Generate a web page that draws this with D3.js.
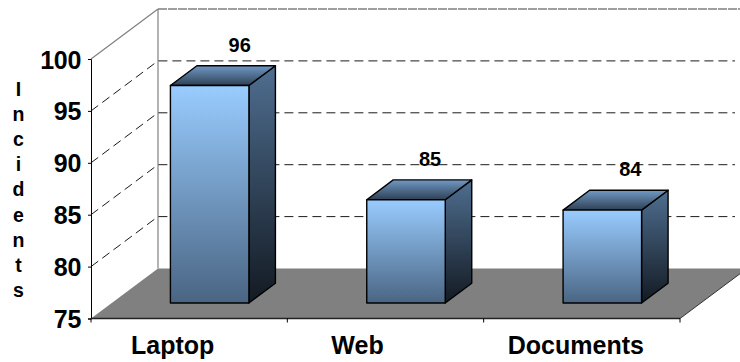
<!DOCTYPE html>
<html><head><meta charset="utf-8">
<script src="https://cdn.jsdelivr.net/npm/d3@7"></script>
<style>html,body{margin:0;padding:0;background:#fff}svg{display:block}text{font-family:"Liberation Sans",Arial,sans-serif;font-weight:bold;fill:#000}</style>
</head><body><svg id="c" width="740" height="362"></svg>
<script>
const categories = ["Laptop", "Web", "Documents"];
const values = [96, 85, 84];
const yTicks = [75, 80, 85, 90, 95, 100];
const axisTitle = "Incidents";

const svg = d3.select("#c");
const W = 740, H = 362;
const x = d3.scaleBand().domain(categories).range([91, 680]);
const y = d3.scaleLinear().domain([75, 100]).range([318.5, 59]);
const dx = 67, dy = -50;          // full chart depth
const bx = 20.5, by = -15;        // bar's front face within depth
const bdx = 26.5, bdy = -19.8;    // bar's own depth
const barW = 78.5;
const path = pts => "M" + pts.map(p => p.join(",")).join("L") + "Z";

const defs = svg.append("defs");
function grad(id, a, b) {
  const g = defs.append("linearGradient").attr("id", id).attr("x1", 0).attr("y1", 0).attr("x2", 0).attr("y2", 1);
  g.append("stop").attr("offset", 0).attr("stop-color", a);
  g.append("stop").attr("offset", 1).attr("stop-color", b);
}
grad("front", "#99ccff", "#4a6583");
grad("side", "#4f6e90", "#131a22");
grad("top", "#7199c4", "#2e4155");

// back wall
const x0 = x.range()[0], x1 = x.range()[1], y0 = y(75), yT = y(100);
svg.append("line").attr("x1", x0).attr("y1", yT).attr("x2", x0 + dx).attr("y2", yT + dy).attr("stroke", "#808080").attr("stroke-width", 1.2);
svg.append("line").attr("x1", x0 + dx).attr("y1", yT + dy).attr("x2", x0 + dx).attr("y2", y0 + dy).attr("stroke", "#808080").attr("stroke-width", 1.2);
svg.append("line").attr("x1", x0 + dx).attr("y1", yT + dy).attr("x2", W).attr("y2", yT + dy).attr("stroke", "#808080").attr("stroke-width", 1.4).attr("stroke-dasharray", "9 1");

// gridlines on side and back walls
const grid = yTicks.filter(v => v > 75 && v < 100);
svg.append("g").selectAll("path").data(grid).join("path")
  .attr("fill", "none").attr("stroke", "#000").attr("stroke-width", 0.9).attr("stroke-dasharray", "9 5")
  .attr("d", v => d3.line()([[x0, y(v)], [x0 + dx, y(v) + dy], [735, y(v) + dy]]));

// floor
svg.append("path").attr("d", path([[x0, y0], [x1, y0], [x1 + dx, y0 + dy], [x0 + dx, y0 + dy]]))
  .attr("fill", "#808080");
svg.append("line").attr("x1", x1).attr("y1", y0).attr("x2", x1 + dx).attr("y2", y0 + dy).attr("stroke", "#333").attr("stroke-width", 1);

// bars
const bars = svg.append("g").selectAll("g").data(categories.map((c, i) => ({c, v: values[i], i}))).join("g");
const L = d => x(d.c) + x.bandwidth() / 2 + bx - barW / 2;
const R = d => L(d) + barW;
const B = () => y(75) + by - 0.5;
const Tp = d => y(d.v) + by;
const face = {stroke: "#000", "stroke-width": 1.4, "stroke-linejoin": "round"};
function styled(sel, fill) {
  sel.attr("fill", `url(#${fill})`);
  Object.entries(face).forEach(([k, v]) => sel.attr(k, v));
}
styled(bars.append("path").attr("d", d => path([[R(d), Tp(d)], [R(d) + bdx, Tp(d) + bdy], [R(d) + bdx, B() + bdy], [R(d), B()]])), "side");
styled(bars.append("path").attr("d", d => path([[L(d), Tp(d)], [L(d) + bdx, Tp(d) + bdy], [R(d) + bdx, Tp(d) + bdy], [R(d), Tp(d)]])), "top");
styled(bars.append("path").attr("d", d => path([[L(d), Tp(d)], [R(d), Tp(d)], [R(d), B()], [L(d), B()]])), "front");

const valueShift = [30, 24, 28];
bars.append("text").attr("text-anchor", "middle").attr("font-size", 20)
  .attr("x", d => (L(d) + R(d)) / 2 + valueShift[d.i])
  .attr("y", d => Tp(d) + bdy - 14)
  .text(d => d.v);

// axes
const gy = svg.append("g").attr("transform", `translate(${x0},0)`)
  .call(d3.axisLeft(y).tickValues(yTicks).tickSize(3).tickPadding(7));
gy.selectAll("text").attr("font-size", 25).attr("letter-spacing", -0.3).attr("dy", "0.36em");
gy.selectAll("path,line").attr("stroke", "#000").attr("stroke-width", 1);

const gx = svg.append("g").attr("transform", `translate(0,${y0})`)
  .call(d3.axisBottom(x).tickSize(0).tickFormat(""));
gx.select("path").attr("stroke", "#222").attr("stroke-width", 1.6).attr("d", `M${x0},0H${x1}`);
gx.selectAll(".tick").remove();
const edgeTicks = d3.range(categories.length + 1).map(i => x0 + i * x.bandwidth());
gx.selectAll("line.t").data(edgeTicks).join("line").attr("class", "t")
  .attr("x1", d => d).attr("x2", d => d).attr("y1", 0).attr("y2", 4).attr("stroke", "#000");

const labelShift = [-16.5, -28, -6];
svg.append("g").selectAll("text").data(categories).join("text")
  .attr("text-anchor", "middle").attr("font-size", 25)
  .attr("x", (d, i) => x(d) + x.bandwidth() / 2 + labelShift[i])
  .attr("y", 354).text(d => d);

// vertical axis title
svg.append("g").selectAll("text").data(axisTitle.split("")).join("text")
  .attr("text-anchor", "middle").attr("font-size", 19.5)
  .attr("x", 18.5).attr("y", (d, i) => 96 + i * 25.1).text(d => d);
</script></body></html>
